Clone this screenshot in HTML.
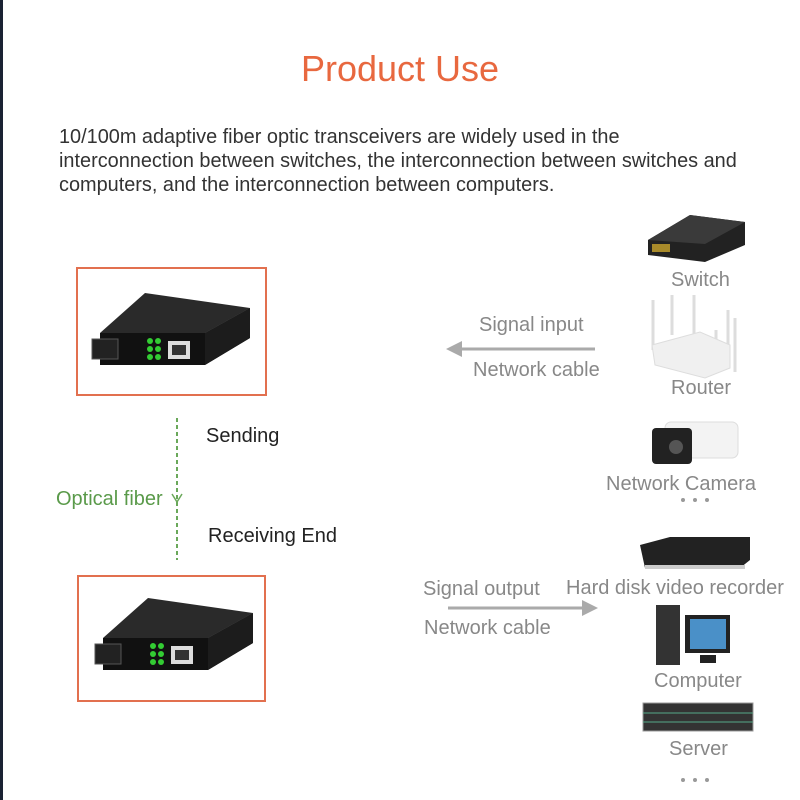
<!DOCTYPE html>
<html><head><style>
body{margin:0;width:800px;height:800px;background:#fff;position:relative;overflow:hidden;font-family:"Liberation Sans",sans-serif}
.t{position:absolute;white-space:nowrap}
.g{color:#888;font-size:20px}
.box{position:absolute;border:2px solid #e2704f;box-sizing:border-box}
</style></head><body>
<div style="position:absolute;left:0;top:0;width:3px;height:800px;background:#1a2233"></div>
<div class="t" style="left:0;width:800px;text-align:center;top:48px;font-size:36px;color:#e8683f">Product Use</div>
<div class="t" style="left:59px;top:125px;font-size:19.9px;line-height:24px;color:#333">10/100m adaptive fiber optic transceivers are widely used in the<br>interconnection between switches, the interconnection between switches and<br>computers, and the interconnection between computers.</div>

<div class="box" style="left:76px;top:267px;width:191px;height:129px"></div>
<div class="box" style="left:77px;top:575px;width:189px;height:127px"></div>

<svg width="800" height="800" style="position:absolute;left:0;top:0">
<defs>
<g id="tr">
<polygon points="0,40 105,40 150,15 45,0" fill="#2a2a2a"/>
<polygon points="0,40 105,40 150,15 150,45 105,72 0,72" fill="#111"/>
<polygon points="105,40 150,15 150,45 105,72" fill="#1c1c1c"/>
<rect x="-8" y="46" width="26" height="20" fill="#222" stroke="#555"/>
<circle cx="50" cy="48" r="3" fill="#3c3"/><circle cx="58" cy="48" r="3" fill="#3c3"/>
<circle cx="50" cy="56" r="3" fill="#3c3"/><circle cx="58" cy="56" r="3" fill="#3c3"/>
<circle cx="50" cy="64" r="3" fill="#3c3"/><circle cx="58" cy="64" r="3" fill="#3c3"/>
<rect x="68" y="48" width="22" height="18" fill="#ddd"/><rect x="72" y="52" width="14" height="10" fill="#333"/>
</g>
</defs>
<use href="#tr" transform="translate(100,293)"/>
<use href="#tr" transform="translate(103,598)"/>
<line x1="177" y1="418" x2="177" y2="560" stroke="#6aa85a" stroke-width="2" stroke-dasharray="4,3"/>
<polyline points="172,494 177,502 182,494" fill="none" stroke="#6aa85a" stroke-width="1.5"/>
<line x1="458" y1="349" x2="595" y2="349" stroke="#aaa" stroke-width="3"/>
<polygon points="446,349 462,341 462,357" fill="#aaa"/>
<line x1="448" y1="608" x2="585" y2="608" stroke="#aaa" stroke-width="3"/>
<polygon points="598,608 582,600 582,616" fill="#aaa"/>
<polygon points="648,240 690,215 745,222 745,245 705,262 648,255" fill="#222"/>
<polygon points="648,240 690,215 745,222 705,244" fill="#3a3a3a"/>
<rect x="652" y="244" width="18" height="8" fill="#a88a2a"/>
<g stroke="#ddd" stroke-width="3"><line x1="653" y1="300" x2="653" y2="350"/><line x1="672" y1="295" x2="672" y2="335"/><line x1="694" y1="295" x2="694" y2="335"/><line x1="728" y1="310" x2="728" y2="365"/><line x1="735" y1="318" x2="735" y2="372"/><line x1="716" y1="330" x2="716" y2="372"/></g>
<polygon points="652,345 700,332 730,345 730,368 705,378 655,365" fill="#f0f0f0" stroke="#ddd"/>
<rect x="665" y="422" width="73" height="36" rx="6" fill="#f3f3f3" stroke="#ddd"/>
<rect x="652" y="428" width="40" height="36" rx="4" fill="#222"/>
<circle cx="676" cy="447" r="7" fill="#555"/>
<polygon points="640,545 670,537 750,537 750,560 740,568 645,568" fill="#222"/>
<rect x="645" y="565" width="100" height="4" fill="#ccc"/>
<rect x="656" y="605" width="24" height="60" fill="#333"/>
<rect x="685" y="615" width="45" height="38" fill="#222"/>
<rect x="690" y="619" width="36" height="30" fill="#4a90c8"/>
<rect x="700" y="655" width="16" height="8" fill="#222"/>
<rect x="643" y="703" width="110" height="28" fill="#333" stroke="#999"/>
<g stroke="#5a8" stroke-width="1"><line x1="643" y1="713" x2="753" y2="713"/><line x1="643" y1="722" x2="753" y2="722"/></g>
<g fill="#999"><circle cx="683" cy="500" r="2"/><circle cx="695" cy="500" r="2"/><circle cx="707" cy="500" r="2"/>
<circle cx="683" cy="780" r="2"/><circle cx="695" cy="780" r="2"/><circle cx="707" cy="780" r="2"/></g>
</svg>

<div class="t" style="left:206px;top:425px;font-size:20px;color:#222">Sending</div>
<div class="t" style="left:208px;top:525px;font-size:20px;color:#222">Receiving End</div>
<div class="t" style="left:56px;top:488px;font-size:20px;color:#5a9a4a">Optical fiber</div>
<div class="t g" style="left:479px;top:314px">Signal input</div>
<div class="t g" style="left:473px;top:359px">Network cable</div>
<div class="t g" style="left:423px;top:578px">Signal output</div>
<div class="t g" style="left:424px;top:617px">Network cable</div>
<div class="t g" style="left:671px;top:269px">Switch</div>
<div class="t g" style="left:671px;top:377px">Router</div>
<div class="t g" style="left:606px;top:473px">Network Camera</div>
<div class="t g" style="left:566px;top:577px">Hard disk video recorder</div>
<div class="t g" style="left:654px;top:670px">Computer</div>
<div class="t g" style="left:669px;top:738px">Server</div>
</body></html>
